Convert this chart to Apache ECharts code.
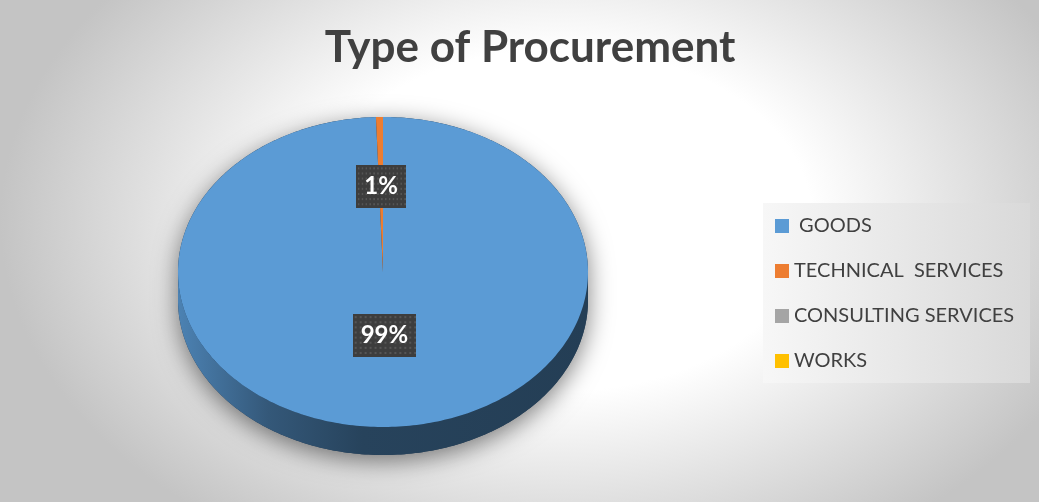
<!DOCTYPE html>
<html>
<head>
<meta charset="utf-8">
<title>Type of Procurement</title>
<script src="https://cdn.jsdelivr.net/npm/echarts@6/dist/echarts.min.js"></script>
<style>
  html, body { margin: 0; padding: 0; background: #c6c6c6; }
  #chart { width: 1039px; height: 502px; }
</style>
</head>
<body>
<div id="chart"></div>
<script>
// --- data ---
const categories = [' GOODS', 'TECHNICAL  SERVICES', 'CONSULTING SERVICES', 'WORKS'];
const shares = [99.45, 0.55, 0, 0];   // percent of procurement
const colors = ['#5b9bd5', '#ed7d31', '#a5a5a5', '#ffc000'];

// pie geometry in pixels (tilted "3D" disc)
const CX = 383, CY = 272, RX = 205, RY = 155, DEPTH = 28;

const total = shares.reduce((a, b) => a + b, 0);
const starts = [];
shares.reduce((acc, v, i) => { starts[i] = acc; return acc + v; }, 0);

// angle in degrees, clockwise from 12 o'clock
function pt(deg, dy) {
  const r = deg * Math.PI / 180;
  return [CX + RX * Math.sin(r), CY + dy - RY * Math.cos(r)];
}
function arc(a0, a1, dy) {
  const pts = [];
  const n = Math.max(2, Math.ceil(Math.abs(a1 - a0)));
  for (let k = 0; k <= n; k++) pts.push(pt(a0 + (a1 - a0) * k / n, dy));
  return pts;
}
function shade(hex, f) {
  const n = parseInt(hex.slice(1), 16);
  const c = [(n >> 16) & 255, (n >> 8) & 255, n & 255].map(v => Math.round(v * f));
  return 'rgb(' + c.join(',') + ')';
}
function sideFill(color) {
  return {
    type: 'linear', x: CX - RX, y: 0, x2: CX + RX, y2: 0, global: true,
    colorStops: [
      { offset: 0, color: shade(color, 0.84) },
      { offset: 0.22, color: shade(color, 0.57) },
      { offset: 0.45, color: shade(color, 0.43) },
      { offset: 1, color: shade(color, 0.40) }
    ]
  };
}

// dotted dark background for the data labels
const dots = document.createElement('canvas');
dots.width = 64; dots.height = 42;
const g = dots.getContext('2d');
g.fillStyle = '#3d3d3d';
g.fillRect(0, 0, 64, 42);
g.fillStyle = '#555555';
for (let x = 2; x < 64; x += 5) {
  for (let y = 2; y < 42; y += 5) g.fillRect(x, y, 2, 2);
}

function renderSlice(params, api) {
  const v = api.value(0), s = api.value(1);
  const children = [];
  if (!v) return { type: 'group', children: children };
  const a0 = s / total * 360, a1 = (s + v) / total * 360;
  const color = colors[params.seriesIndex];

  if (params.seriesIndex === 0) {
    // whole disc silhouette, only for the drop shadow
    children.push({
      type: 'polygon', z2: 0,
      shape: { points: arc(270, 450, 0).concat(arc(90, 270, DEPTH)) },
      style: { fill: '#223a52', shadowBlur: 24, shadowColor: 'rgba(0,0,0,0.5)', shadowOffsetY: 6 }
    });
  }
  // front wall
  const f0 = Math.max(a0, 90), f1 = Math.min(a1, 270);
  if (f1 > f0) {
    children.push({
      type: 'polygon', z2: 1,
      shape: { points: arc(f0, f1, 0).concat(arc(f1, f0, DEPTH)) },
      style: { fill: sideFill(color) }
    });
  }
  // top face
  children.push({
    type: 'polygon', z2: 5,
    shape: { points: [[CX, CY]].concat(arc(a0, a1, 0)) },
    style: { fill: color }
  });
  // label
  const mid = (a0 + a1) / 2 * Math.PI / 180;
  const k = v / total > 0.5 ? 0.41 : 0.55;
  children.push({
    type: 'text', z2: 10,
    x: CX + RX * k * Math.sin(mid),
    y: CY - RY * k * Math.cos(mid),
    style: {
      text: Math.round(v / total * 100) + '%',
      fontFamily: 'Lato', fontWeight: 'bold', fontSize: 24,
      fill: '#ffffff', align: 'center', verticalAlign: 'middle',
      backgroundColor: { image: dots },
      padding: [10, 8, 9, 8],
      boxShadowBlur: 4, boxShadowColor: 'rgba(0,0,0,0.45)',
      boxShadowOffsetX: 2, boxShadowOffsetY: 2
    }
  });
  return { type: 'group', children: children };
}

const chart = echarts.init(document.getElementById('chart'));
chart.setOption({
  backgroundColor: '#c4c4c4',
  animation: false,
  title: {
    text: 'Type of Procurement',
    left: 525, top: 21, textAlign: 'center',
    textStyle: { fontFamily: 'Lato', fontWeight: 'bold', fontSize: 44, color: '#404040' }
  },
  graphic: [
    {
      type: 'rect', z: -10, silent: true,
      x: 560, y: 220, scaleX: 560 / 400, scaleY: 380 / 400,
      shape: { x: -800, y: -800, width: 1600, height: 1600 },
      style: {
        fill: {
          type: 'radial', x: 0.5, y: 0.5, r: 0.25,
          colorStops: [
            { offset: 0, color: '#ffffff' },
            { offset: 0.45, color: '#ffffff' },
            { offset: 1, color: '#c4c4c4' }
          ]
        }
      }
    },
    {
      type: 'rect', z: 1, silent: true,
      shape: { x: 763, y: 203, width: 267, height: 180 },
      style: {
        fill: {
          type: 'linear', x: 0, y: 0, x2: 1, y2: 0,
          colorStops: [{ offset: 0, color: '#f7f7f7' }, { offset: 1, color: '#d9d9d9' }]
        }
      }
    }
  ],
  legend: {
    orient: 'vertical', left: 775, top: 215, padding: 0,
    itemWidth: 14, itemHeight: 14, itemGap: 23,
    icon: 'rect', selectedMode: false,
    data: categories,
    textStyle: { fontFamily: 'Lato', fontSize: 20, lineHeight: 22, color: '#404040' }
  },
  series: categories.map((name, i) => ({
    type: 'custom',
    name: name,
    coordinateSystem: 'none',
    renderItem: renderSlice,
    itemStyle: { color: colors[i] },
    data: [[shares[i], starts[i]]]
  }))
});
</script>
</body>
</html>
